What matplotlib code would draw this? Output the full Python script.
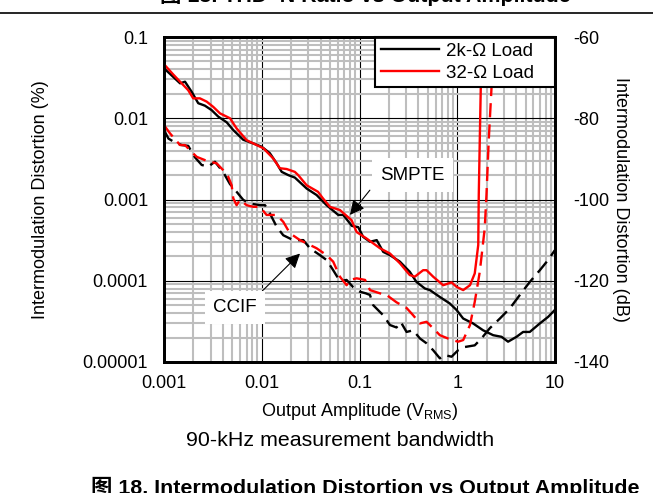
import numpy as np
import matplotlib
matplotlib.use('Agg')
import matplotlib.pyplot as plt
from matplotlib.ticker import FixedLocator, NullFormatter

plt.rcParams['font.family'] = ['Liberation Sans', 'Noto Sans CJK SC', 'DejaVu Sans']
plt.rcParams['axes.unicode_minus'] = False
plt.rcParams['mathtext.fontset'] = 'custom'
plt.rcParams['mathtext.rm'] = 'Liberation Sans'
plt.rcParams['mathtext.it'] = 'Liberation Sans'

# --- data (output amplitude in V_RMS, distortion in dB) ---
smpte_2k_x = [0.001, 0.00124, 0.00146, 0.00164, 0.00192, 0.00224, 0.00262, 0.00307, 0.00359,
              0.00438, 0.00511, 0.00647, 0.00819, 0.00998, 0.0121, 0.0142, 0.0160, 0.0187,
              0.0218, 0.0288, 0.0364, 0.0461, 0.0606, 0.0681, 0.0836, 0.097, 0.109, 0.128,
              0.150, 0.175, 0.205, 0.259, 0.327, 0.383, 0.466, 0.525, 0.664, 0.840, 0.984,
              1.15, 1.45, 1.84, 2.33, 2.84, 3.31, 4.04, 4.72, 5.52, 7.0, 8.5, 9.95]
smpte_2k_db = [-67.7, -69.8, -71.4, -71.0, -73.5, -76.3, -76.9, -78.0, -79.6,
               -81.0, -82.9, -85.3, -86.2, -87.0, -88.6, -91.1, -93.2, -94.0,
               -94.6, -97.3, -98.9, -101.4, -103.8, -103.8, -106.5, -106.8, -109.2, -110.4,
               -110.0, -112.9, -113.7, -115.3, -117.8, -120.3, -121.9, -122.3, -124.0, -125.6, -127.2,
               -129.3, -130.5, -132.2, -133.4, -133.8, -135.0, -133.8, -132.6, -132.6, -130.5, -128.9, -127.2]

smpte_32_x = [0.001, 0.00124, 0.00146, 0.00177, 0.00199, 0.00233, 0.00273, 0.00319, 0.00374,
              0.00473, 0.00553, 0.00701, 0.00887, 0.0104, 0.0131, 0.0153, 0.0180, 0.0218,
              0.0236, 0.0288, 0.0376, 0.0422, 0.0498, 0.0631, 0.0830, 0.0934, 0.118, 0.162,
              0.205, 0.259, 0.327, 0.368, 0.448, 0.485, 0.567, 0.718, 0.875, 0.984, 1.15,
              1.35, 1.51, 1.64, 1.66, 1.70, 1.74, 1.79]
smpte_32_db = [-66.7, -69.2, -71.0, -73.1, -75.1, -75.1, -75.9, -77.2, -78.8,
               -80.0, -82.5, -85.4, -86.6, -87.4, -89.9, -92.3, -92.5, -93.2,
               -94.0, -96.5, -98.1, -99.7, -101.8, -102.6, -105.1, -108.0, -109.6, -112.0,
               -113.3, -115.7, -118.6, -119.0, -117.4, -117.4, -119.0, -121.1, -120.4, -121.5, -122.3,
               -121.1, -118.2, -111.2, -98.9, -85.4, -72.6, -63.2]

ccif_2k_x = [0.001, 0.00111, 0.00130, 0.00152, 0.00177, 0.00207, 0.00243, 0.00284, 0.00332,
             0.00404, 0.00473, 0.00553, 0.00647, 0.00757, 0.00959, 0.0108, 0.0121, 0.0142,
             0.0166, 0.0210, 0.0266, 0.0311, 0.0394, 0.0461, 0.0538, 0.0631, 0.0738, 0.0863,
             0.101, 0.116, 0.128, 0.138, 0.162, 0.175, 0.205, 0.239, 0.265, 0.303, 0.354,
             0.415, 0.485, 0.567, 0.664, 0.747, 0.875, 1.02, 1.20, 1.51, 1.77, 2.15, 2.73,
             3.45, 4.37, 5.52, 7.0, 8.5, 9.95]
ccif_2k_db = [-82.9, -85.0, -86.0, -86.6, -86.8, -89.6, -91.5, -91.9, -90.7,
              -93.3, -96.2, -98.1, -100.1, -101.0, -101.4, -101.4, -103.4, -106.7,
              -108.8, -110.0, -110.0, -112.0, -113.7, -114.9, -117.4, -120.1, -119.8, -121.6,
              -122.7, -123.1, -123.5, -126.0, -127.7, -128.5, -130.9, -131.5, -130.2, -132.6, -132.2,
              -134.2, -135.4, -137.1, -139.1, -138.3, -138.7, -137.1, -136.3, -135.9, -134.2, -131.7, -129.3,
              -126.8, -123.5, -120.3, -117.4, -114.9, -112.5]

ccif_32_x = [0.001, 0.00115, 0.00146, 0.00164, 0.00192, 0.00216, 0.00275, 0.00346, 0.00404,
             0.00454, 0.00492, 0.00511, 0.00553, 0.00598, 0.00701, 0.00819, 0.00959, 0.0112,
             0.0142, 0.0166, 0.0194, 0.0246, 0.0364, 0.0461, 0.0538, 0.0631, 0.0738, 0.0798,
             0.0934, 0.114, 0.128, 0.162, 0.189, 0.239, 0.303, 0.354, 0.415, 0.485, 0.567,
             0.664, 0.840, 1.02, 1.15, 1.35, 1.51, 1.70, 1.91, 1.99, 2.10, 2.24, 2.31]
ccif_32_db = [-81.7, -83.7, -86.6, -86.6, -88.3, -89.5, -90.5, -91.1, -92.8,
              -94.4, -96.5, -99.7, -101.4, -100.1, -101.4, -101.8, -101.8, -103.8,
              -103.8, -105.5, -108.3, -110.0, -112.0, -113.7, -115.3, -119.0, -121.1, -119.8,
              -119.4, -119.8, -122.3, -123.1, -123.5, -125.3, -126.7, -128.5, -130.5, -130.1, -131.7,
              -133.4, -134.4, -135.0, -134.6, -130.9, -125.2, -117.8, -107.1, -98.9, -85.4, -72.6, -63.2]

x_ticks = [0.001, 0.01, 0.1, 1, 10]
x_labels = ['0.001', '0.01', '0.1', '1', '10']
y_ticks = [0.00001, 0.0001, 0.001, 0.01, 0.1]
y_labels = ['0.00001', '0.0001', '0.001', '0.01', '0.1']
db_ticks = [-140, -120, -100, -80, -60]


def db_to_pct(db):
    return 100 * 10 ** (np.asarray(db) / 20.0)


fig = plt.figure(figsize=(6.53, 4.93), dpi=100)
ax = fig.add_axes([164 / 653, 1 - 362 / 493, (555 - 164) / 653, (362 - 37) / 493])

black = '#000000'
red = '#FF0000'
lw = 1.7
dash = (6, 3)

ax.plot(smpte_2k_x, db_to_pct(smpte_2k_db), color=black, lw=lw, label='2k-Ω Load   ', zorder=4)
ax.plot(smpte_32_x, db_to_pct(smpte_32_db), color=red, lw=lw, label='32-Ω Load   ', zorder=5)
ax.plot(ccif_2k_x, db_to_pct(ccif_2k_db), color=black, lw=lw, dashes=dash, zorder=4)
ax.plot(ccif_32_x, db_to_pct(ccif_32_db), color=red, lw=lw, dashes=dash, zorder=5)

ax.set_xscale('log')
ax.set_yscale('log')
ax.set_xlim(0.001, 10)
ax.set_ylim(0.00001, 0.1)
ax.set_xticks(x_ticks)
ax.set_xticklabels(x_labels)
ax.set_yticks(y_ticks)
ax.set_yticklabels(y_labels)
minor_x = [m * 10.0 ** e for e in range(-3, 1) for m in range(2, 10)]
minor_y = [m * 10.0 ** e for e in range(-5, -1) for m in range(2, 10)]
ax.xaxis.set_minor_locator(FixedLocator(minor_x))
ax.yaxis.set_minor_locator(FixedLocator(minor_y))
ax.xaxis.set_minor_formatter(NullFormatter())
ax.yaxis.set_minor_formatter(NullFormatter())
ax.tick_params(which='both', length=0, labelsize=13)
ax.tick_params(axis='y', pad=11.5)
ax.tick_params(axis='x', pad=9)

ax.grid(which='minor', color='#BEBEBE', lw=1.5, zorder=0)
ax.grid(which='major', color='black', lw=0.8, zorder=1)
ax.set_axisbelow(True)
for s in ax.spines.values():
    s.set_linewidth(2)

ax.set_xlabel('Output Amplitude (V$_{\\mathrm{RMS}}$)', fontsize=13, labelpad=7)
ax.set_ylabel('Intermodulation Distortion (%)', fontsize=13, labelpad=24)

leg = ax.legend(loc='upper right', fontsize=13.5, frameon=True, fancybox=False,
                edgecolor='black', framealpha=1, borderaxespad=0, handlelength=3.1,
                borderpad=0.3, labelspacing=0.25, handletextpad=0.35)
leg.get_frame().set_linewidth(1.5)
leg.set_zorder(10)

# annotations
ax.annotate('', xy=(0.0798, db_to_pct(-103.8)), xytext=(0.1277, db_to_pct(-97.7)),
            arrowprops=dict(arrowstyle='-|>', color='black', lw=0.8, mutation_scale=22,
                            shrinkA=0, shrinkB=0), zorder=6)
ax.text(0.347, db_to_pct(-94.0), 'SMPTE', fontsize=13.5, ha='center', va='center', zorder=7,
        bbox=dict(facecolor='white', edgecolor='none', pad=6))
ax.annotate('', xy=(0.0246, db_to_pct(-113.3)), xytext=(0.01035, db_to_pct(-122.3)),
            arrowprops=dict(arrowstyle='-|>', color='black', lw=0.8, mutation_scale=22,
                            shrinkA=0, shrinkB=0), zorder=6)
ax.text(0.00532, db_to_pct(-126.6), 'CCIF', fontsize=13.5, ha='center', va='center', zorder=7,
        bbox=dict(facecolor='white', edgecolor='none', pad=6))

ax2 = ax.twinx()
ax2.set_ylim(-140, -60)
ax2.set_yticks(db_ticks)
ax2.set_yticklabels([str(t) for t in db_ticks])
ax2.tick_params(length=0, labelsize=13, pad=13)
ax2.set_ylabel('Intermodulation Distortion (dB)', fontsize=13, rotation=-90, labelpad=14)
for s in ax2.spines.values():
    s.set_linewidth(2)

fig.text(340 / 653, 1 - 440 / 493, '90-kHz measurement bandwidth', fontsize=15.4,
         ha='center', va='center')
fig.text(365 / 653, 1 - 2 / 493, '图 15. THD+N Ratio vs Output Amplitude', fontsize=15.4,
         fontweight='bold', ha='center', va='baseline')
fig.add_artist(plt.Line2D([0, 1], [1 - 13 / 493, 1 - 13 / 493], color='black', lw=1.2))
fig.text(365 / 653, 1 - 494 / 493, '图 18. Intermodulation Distortion vs Output Amplitude',
         fontsize=15.4, fontweight='bold', ha='center', va='baseline')

fig.savefig('out.png', dpi=100)
